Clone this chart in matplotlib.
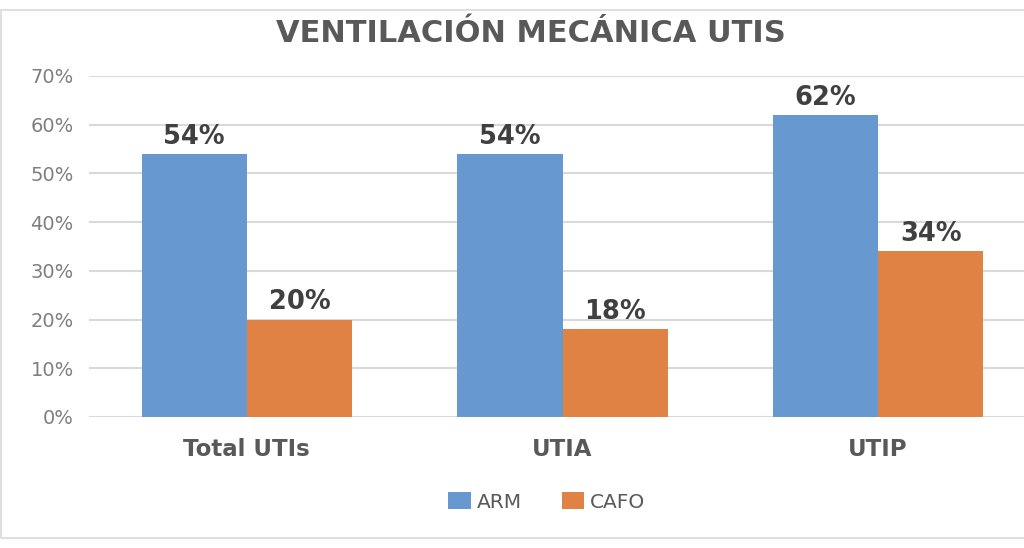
import matplotlib
matplotlib.use("Agg")
import matplotlib.pyplot as plt
from matplotlib.patches import Rectangle, Patch
import numpy as np

# ── data ───────────────────────────────────────────────────────────
title = "VENTILACIÓN MECÁNICA UTIS"
categories = ["Total UTIs", "UTIA", "UTIP"]
series_names = ["ARM", "CAFO"]
arm = [0.54, 0.54, 0.62]
cafo = [0.20, 0.18, 0.34]
yticks = [0.0, 0.1, 0.2, 0.3, 0.4, 0.5, 0.6, 0.7]

BLUE = "#6798CF"
ORANGE = "#DF8244"
GRID = "#D9D9D9"

fig = plt.figure(figsize=(10.24, 5.48), dpi=100)
fig.patch.set_facecolor("white")

# chart frame (Excel-style border)
fig.add_artist(Rectangle((1 / 1024, 10 / 548), 1.05, 528 / 548,
                         transform=fig.transFigure, fill=False,
                         edgecolor=GRID, lw=1.2))

ax = fig.add_axes([89 / 1024, 131 / 548, 947 / 1024, 341 / 548])
x = np.arange(len(categories))
w = 0.333
b1 = ax.bar(x - w / 2, arm, w, color=BLUE, label=series_names[0], zorder=3)
b2 = ax.bar(x + w / 2, cafo, w, color=ORANGE, label=series_names[1], zorder=3)

ax.set_xlim(-0.5, len(categories) - 0.5)
ax.set_ylim(0, 0.7)
ax.set_yticks(yticks)
ax.set_yticklabels([f"{int(round(v * 100))}%" for v in yticks])
ax.yaxis.grid(True, color=GRID, lw=1.5, zorder=0)
ax.set_axisbelow(True)
for s in ax.spines.values():
    s.set_visible(False)
ax.tick_params(axis="y", length=0, pad=11, labelsize=14, labelcolor="#7F7F7F")
ax.set_xticks(x)
ax.set_xticklabels(categories, fontweight="bold")
ax.tick_params(axis="x", length=0, pad=15, labelsize=16.5, labelcolor="#595959")

for bars in (b1, b2):
    for r in bars:
        v = r.get_height()
        ax.annotate(f"{int(round(v * 100))}%",
                    (r.get_x() + r.get_width() / 2, v),
                    xytext=(0, 3), textcoords="offset points",
                    ha="center", va="bottom", fontsize=18.5,
                    fontweight="bold", color="#404040")

fig.text(531 / 1024, 1 - 33 / 548, title, ha="center", va="center",
         fontsize=22, fontweight="bold", color="#595959")

handles = [Patch(facecolor=BLUE), Patch(facecolor=ORANGE)]
fig.legend(handles, series_names, loc="center", ncol=2,
           bbox_to_anchor=(547 / 1024, 46 / 548), frameon=False,
           fontsize=14.5, labelcolor="#595959", handlelength=1.1,
           handleheight=0.85, handletextpad=0.3, columnspacing=2.0)

fig.savefig("out.png", dpi=100)
